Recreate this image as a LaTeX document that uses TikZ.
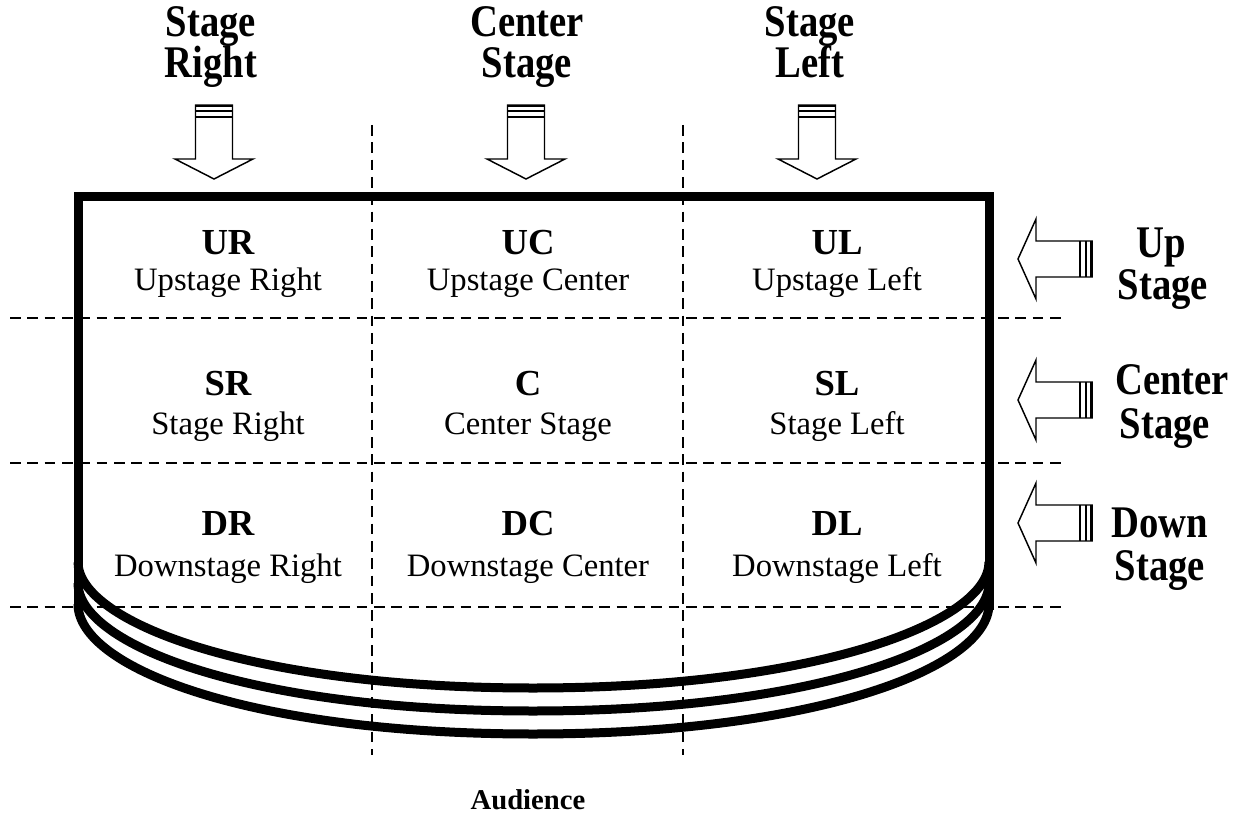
\documentclass[tikz,border=0pt]{standalone}
\usepackage{fontspec}
\setmainfont{Liberation Serif}
\begin{document}
\begin{tikzpicture}[x=0.75pt,y=-0.75pt,
  gridline/.style={line width=1.5pt, dash pattern=on 8pt off 5pt},
  stageline/.style={line width=6.75pt, line join=miter},
  blockarrow/.style={draw, line width=1.1pt, fill=white, line join=miter},
  code/.style={font=\fontsize{27.5}{30}\selectfont\bfseries, anchor=base, inner sep=0pt},
  desc/.style={font=\fontsize{24.5}{28}\selectfont, anchor=base, inner sep=0pt},
  head/.style={font=\fontsize{29}{31}\selectfont\bfseries, anchor=base, inner sep=0pt},
]
\useasboundingbox (0,0) rectangle (1241,816);

% stage outline
\draw[stageline] (78,610) -- (78,197) -- (989,197) -- (989,610);
\draw[stageline] (78,562) .. controls (78,622) and (250,688) .. (533,688) .. controls (816,688) and (989,622) .. (989,562);
\draw[stageline] (78,583) .. controls (78,645) and (250,711) .. (533,711) .. controls (816,711) and (989,645) .. (989,583);
\draw[stageline] (78,604) .. controls (78,668) and (250,734) .. (533,734) .. controls (816,734) and (989,668) .. (989,604);

% grid
\foreach \yy in {318,463,607} \draw[gridline] (10,\yy) -- (1062,\yy);
\foreach \xx in {372,683} \draw[gridline] (\xx,125) -- (\xx,755);

% top arrows
\foreach \cx in {214,526,817} {
  \draw[blockarrow] ({\cx-18.5},105) -- ({\cx+18.5},105) -- ({\cx+18.5},159) -- ({\cx+39},159) -- (\cx,179) -- ({\cx-39},159) -- ({\cx-18.5},159) -- cycle;
  \draw[line width=2pt] ({\cx-18.5},106) -- ({\cx+18.5},106);
  \draw[line width=1.5pt] ({\cx-18.5},111) -- ({\cx+18.5},111);
  \draw[line width=1.1pt] ({\cx-18.5},117) -- ({\cx+18.5},117);
}
% side arrows
\foreach \cy in {259,400,523} {
  \draw[blockarrow] (1092,{\cy-18}) -- (1036,{\cy-18}) -- (1036,{\cy-40}) -- (1018,\cy) -- (1036,{\cy+40}) -- (1036,{\cy+18}) -- (1092,{\cy+18}) -- cycle;
  \draw[line width=2pt] (1091,{\cy-18}) -- (1091,{\cy+18});
  \draw[line width=1.5pt] (1086,{\cy-18}) -- (1086,{\cy+18});
  \draw[line width=1.1pt] (1080,{\cy-18}) -- (1080,{\cy+18});
}

% top headings
\node[head] (sr1) at (211,37) {\scalebox{1}[1.17]{Stage}};
\node[head] (sr2) at (211,78) {\scalebox{1}[1.17]{Right}};
\node[head] (cs1) at (527,37) {\scalebox{1}[1.17]{Center}};
\node[head] (cs2) at (527,78) {\scalebox{1}[1.17]{Stage}};
\node[head] (sl1) at (810,37) {\scalebox{1}[1.17]{Stage}};
\node[head] (sl2) at (810,78) {\scalebox{1}[1.17]{Left}};

% side headings
\node[head] (us1) at (1161,258) {\scalebox{1}[1.17]{Up}};
\node[head] (us2) at (1163,300) {\scalebox{1}[1.17]{Stage}};
\node[head] (cc1) at (1172,394) {\scalebox{1}[1.17]{Center}};
\node[head] (cc2) at (1165,438) {\scalebox{1}[1.17]{Stage}};
\node[head] (ds1) at (1160,537) {\scalebox{1}[1.17]{Down}};
\node[head] (ds2) at (1160,580) {\scalebox{1}[1.17]{Stage}};

% cells
\node[code] (ur) at (228,255) {UR};
\node[desc] (urd) at (228,291) {Upstage Right};
\node[code] (uc) at (528,255) {UC};
\node[desc] (ucd) at (528,291) {Upstage Center};
\node[code] (ul) at (837,255) {UL};
\node[desc] (uld) at (837,291) {Upstage Left};

\node[code] (sr) at (228,395) {SR};
\node[desc] (srd) at (228,434) {Stage Right};
\node[code] (c) at (528,395) {C};
\node[desc] (cd) at (528,434) {Center Stage};
\node[code] (sl) at (837,395) {SL};
\node[desc] (sld) at (837,434) {Stage Left};

\node[code] (dr) at (228,535) {DR};
\node[desc] (drd) at (228,576) {Downstage Right};
\node[code] (dc) at (528,535) {DC};
\node[desc] (dcd) at (528,576) {Downstage Center};
\node[code] (dl) at (837,535) {DL};
\node[desc] (dld) at (837,576) {Downstage Left};

\node[font=\fontsize{21.5}{24}\selectfont\bfseries, anchor=base, inner sep=0pt] (aud) at (528,809) {Audience};
\end{tikzpicture}
\end{document}
